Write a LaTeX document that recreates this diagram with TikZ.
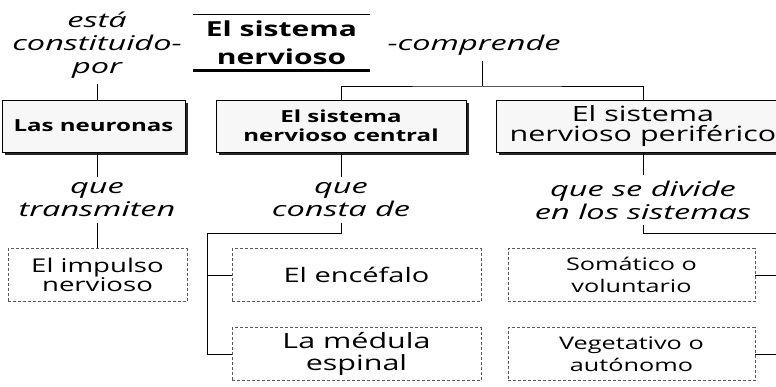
\documentclass[tikz,border=0pt]{standalone}
\usepackage{fontspec}
\setmainfont[FakeStretch=1.45]{Open Sans}
\newfontfamily\enlacefont[FakeStretch=1.6]{Open Sans}
\usetikzlibrary{shadows}

\begin{document}
\begin{tikzpicture}[x=1pt,y=-1pt,line width=0.8pt,
  enlace/.style={font=\enlacefont\itshape\fontsize{20.3}{23}\selectfont, align=center, inner sep=5pt},
  caja/.style={draw, fill=black!3, align=center, inner sep=0pt, minimum height=52pt,
    drop shadow={shadow xshift=2.5pt, shadow yshift=-2.5pt, fill=black!85, opacity=1}},
  cajita/.style={draw=black!65, densely dashed, align=center, inner sep=0pt, minimum height=53pt}]
\useasboundingbox (0,0) rectangle (776,386);
\path[clip] (0,0) rectangle (776,386);

% titulo
\node[font=\bfseries\fontsize{20.7}{28}\selectfont, align=center, minimum width=177pt,
  minimum height=55pt, inner sep=0pt] (titulo) at (281.5,42.5) {El sistema\\nervioso};
\draw (titulo.north west) -- (titulo.north east);
\draw[line width=2.5pt] (titulo.south west) -- (titulo.south east);

% enlaces de arriba
\node[enlace] (constituido) at (97,45) {está\\constituido-\\por};
\node[enlace] (comprende) at (474,45) {-comprende};

% primer nivel
\node[caja, font=\bfseries\fontsize{16.6}{19}\selectfont, minimum width=183pt] (neuronas) at (93.5,126) {Las neuronas};
\node[caja, font=\bfseries\fontsize{16.6}{19}\selectfont, minimum width=250pt] (central) at (341,126) {El sistema\\nervioso central};
\node[caja, font=\fontsize{21}{20}\selectfont, minimum width=294pt] (periferico) at (643,126) {El sistema\\nervioso periférico};

% enlaces del medio
\node[enlace] (transmiten) at (97,200) {que\\transmiten};
\node[enlace] (consta) at (341,200) {que\\consta de};
\node[enlace] (sistemas) at (643,200) {que se divide\\en los sistemas};

% segundo nivel
\node[cajita, font=\fontsize{19}{17}\selectfont, minimum width=179pt] (impulso) at (97.5,275) {El impulso\\nervioso};
\node[cajita, font=\fontsize{20}{21}\selectfont, minimum width=249pt] (encefalo) at (356.5,275) {El encéfalo};
\node[cajita, font=\fontsize{21}{21.5}\selectfont, minimum width=249pt] (medula) at (356.5,354) {La médula\\espinal};
\node[cajita, font=\fontsize{17.4}{22}\selectfont, minimum width=247pt] (somatico) at (631.5,275) {Somático o\\voluntario};
\node[cajita, font=\fontsize{17.4}{22}\selectfont, minimum width=247pt] (vegetativo) at (631.5,354) {Vegetativo o\\autónomo};

% conectores
\coordinate (rama) at (482,86);
\coordinate (cc) at (207,233);
\coordinate (ss) at (800,233);
\draw (constituido.south) -- (constituido.south |- neuronas.north);
\draw (comprende.south -| rama) -- (rama);
\draw (central.north) |- (rama) -| (periferico.north);
\draw (neuronas.south -| transmiten) -- (transmiten.north);
\draw (transmiten.south) -- (transmiten.south |- impulso.north);
\draw (central.south) -- (consta.north);
\draw (consta.south) |- (cc) |- (medula.west);
\draw (cc) |- (encefalo.west);
\draw (periferico.south) -- (sistemas.north);
\draw (sistemas.south) |- (ss) |- (vegetativo.east);
\draw (ss) |- (somatico.east);
\end{tikzpicture}
\end{document}
